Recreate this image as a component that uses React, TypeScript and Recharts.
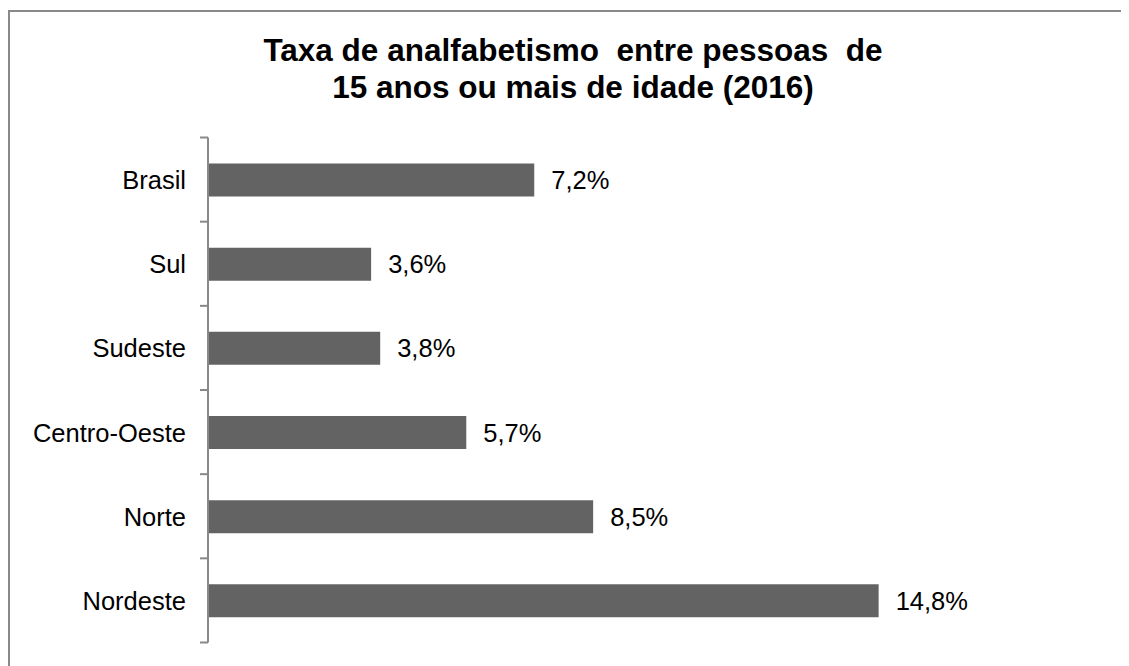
import React from 'react';
import { BarChart, Bar, XAxis, YAxis, LabelList } from 'recharts';

const categories = ['Brasil', 'Sul', 'Sudeste', 'Centro-Oeste', 'Norte', 'Nordeste'];
const values = [7.2, 3.6, 3.8, 5.7, 8.5, 14.8];
const boundaryTicks = [0, 1, 2, 3, 4, 5, 6];
const titleLines = ['Taxa de analfabetismo  entre pessoas  de', '15 anos ou mais de idade (2016)'];

const data = categories.map((name, i) => ({ name, value: values[i] }));

const FONT = '"Liberation Sans", Arial, sans-serif';

export default function App() {
  return (
    <div style={{ position: 'relative', width: 1121, height: 658, overflow: 'hidden', fontFamily: FONT, background: '#fff' }}>
      <div
        style={{
          position: 'absolute',
          left: 0,
          top: 2,
          width: 1200,
          height: 700,
          border: '2px solid #898989',
          boxSizing: 'border-box',
        }}
      />
      <div
        style={{
          position: 'absolute',
          left: 0,
          top: 23.6,
          width: 1130,
          textAlign: 'center',
          fontWeight: 'bold',
          fontSize: 31.5,
          lineHeight: '37px',
          whiteSpace: 'pre',
          color: '#000',
        }}
      >
        {titleLines.map((t) => (
          <div key={t}>{t}</div>
        ))}
      </div>
      <div style={{ position: 'absolute', left: 0, top: 0 }}>
        <BarChart
          width={1121}
          height={658}
          data={data}
          layout="vertical"
          margin={{ top: 129.5, right: 196, bottom: 23.5, left: 192 }}
        >
          <XAxis type="number" domain={[0, 16]} hide />
          <YAxis yAxisId="cat" type="category" dataKey="name" hide width={0} />
          <YAxis
            yAxisId="num"
            type="number"
            dataKey="value"
            domain={[0, 6]}
            ticks={boundaryTicks}
            interval={0}
            width={8}
            tick={{ fontSize: 0, fill: 'transparent' }}
            tickFormatter={() => ''}
            tickSize={8}
            tickMargin={0}
            axisLine={{ stroke: '#898989', strokeWidth: 2 }}
            tickLine={{ stroke: '#898989', strokeWidth: 2 }}
            allowDataOverflow
          />
          <Bar yAxisId="cat" dataKey="value" fill="#636363" barSize={33} isAnimationActive={false}>
            <LabelList
              dataKey="value"
              position="right"
              offset={17}
              fill="#000"
              style={{ fontSize: 25.5, fontFamily: FONT }}
              formatter={(v: any) => `${String(v).replace('.', ',')}%`}
            />
            <LabelList
              dataKey="name"
              position="left"
              offset={22}
              fill="#000"
              style={{ fontSize: 25.5, fontFamily: FONT }}
            />
          </Bar>
        </BarChart>
      </div>
    </div>
  );
}
